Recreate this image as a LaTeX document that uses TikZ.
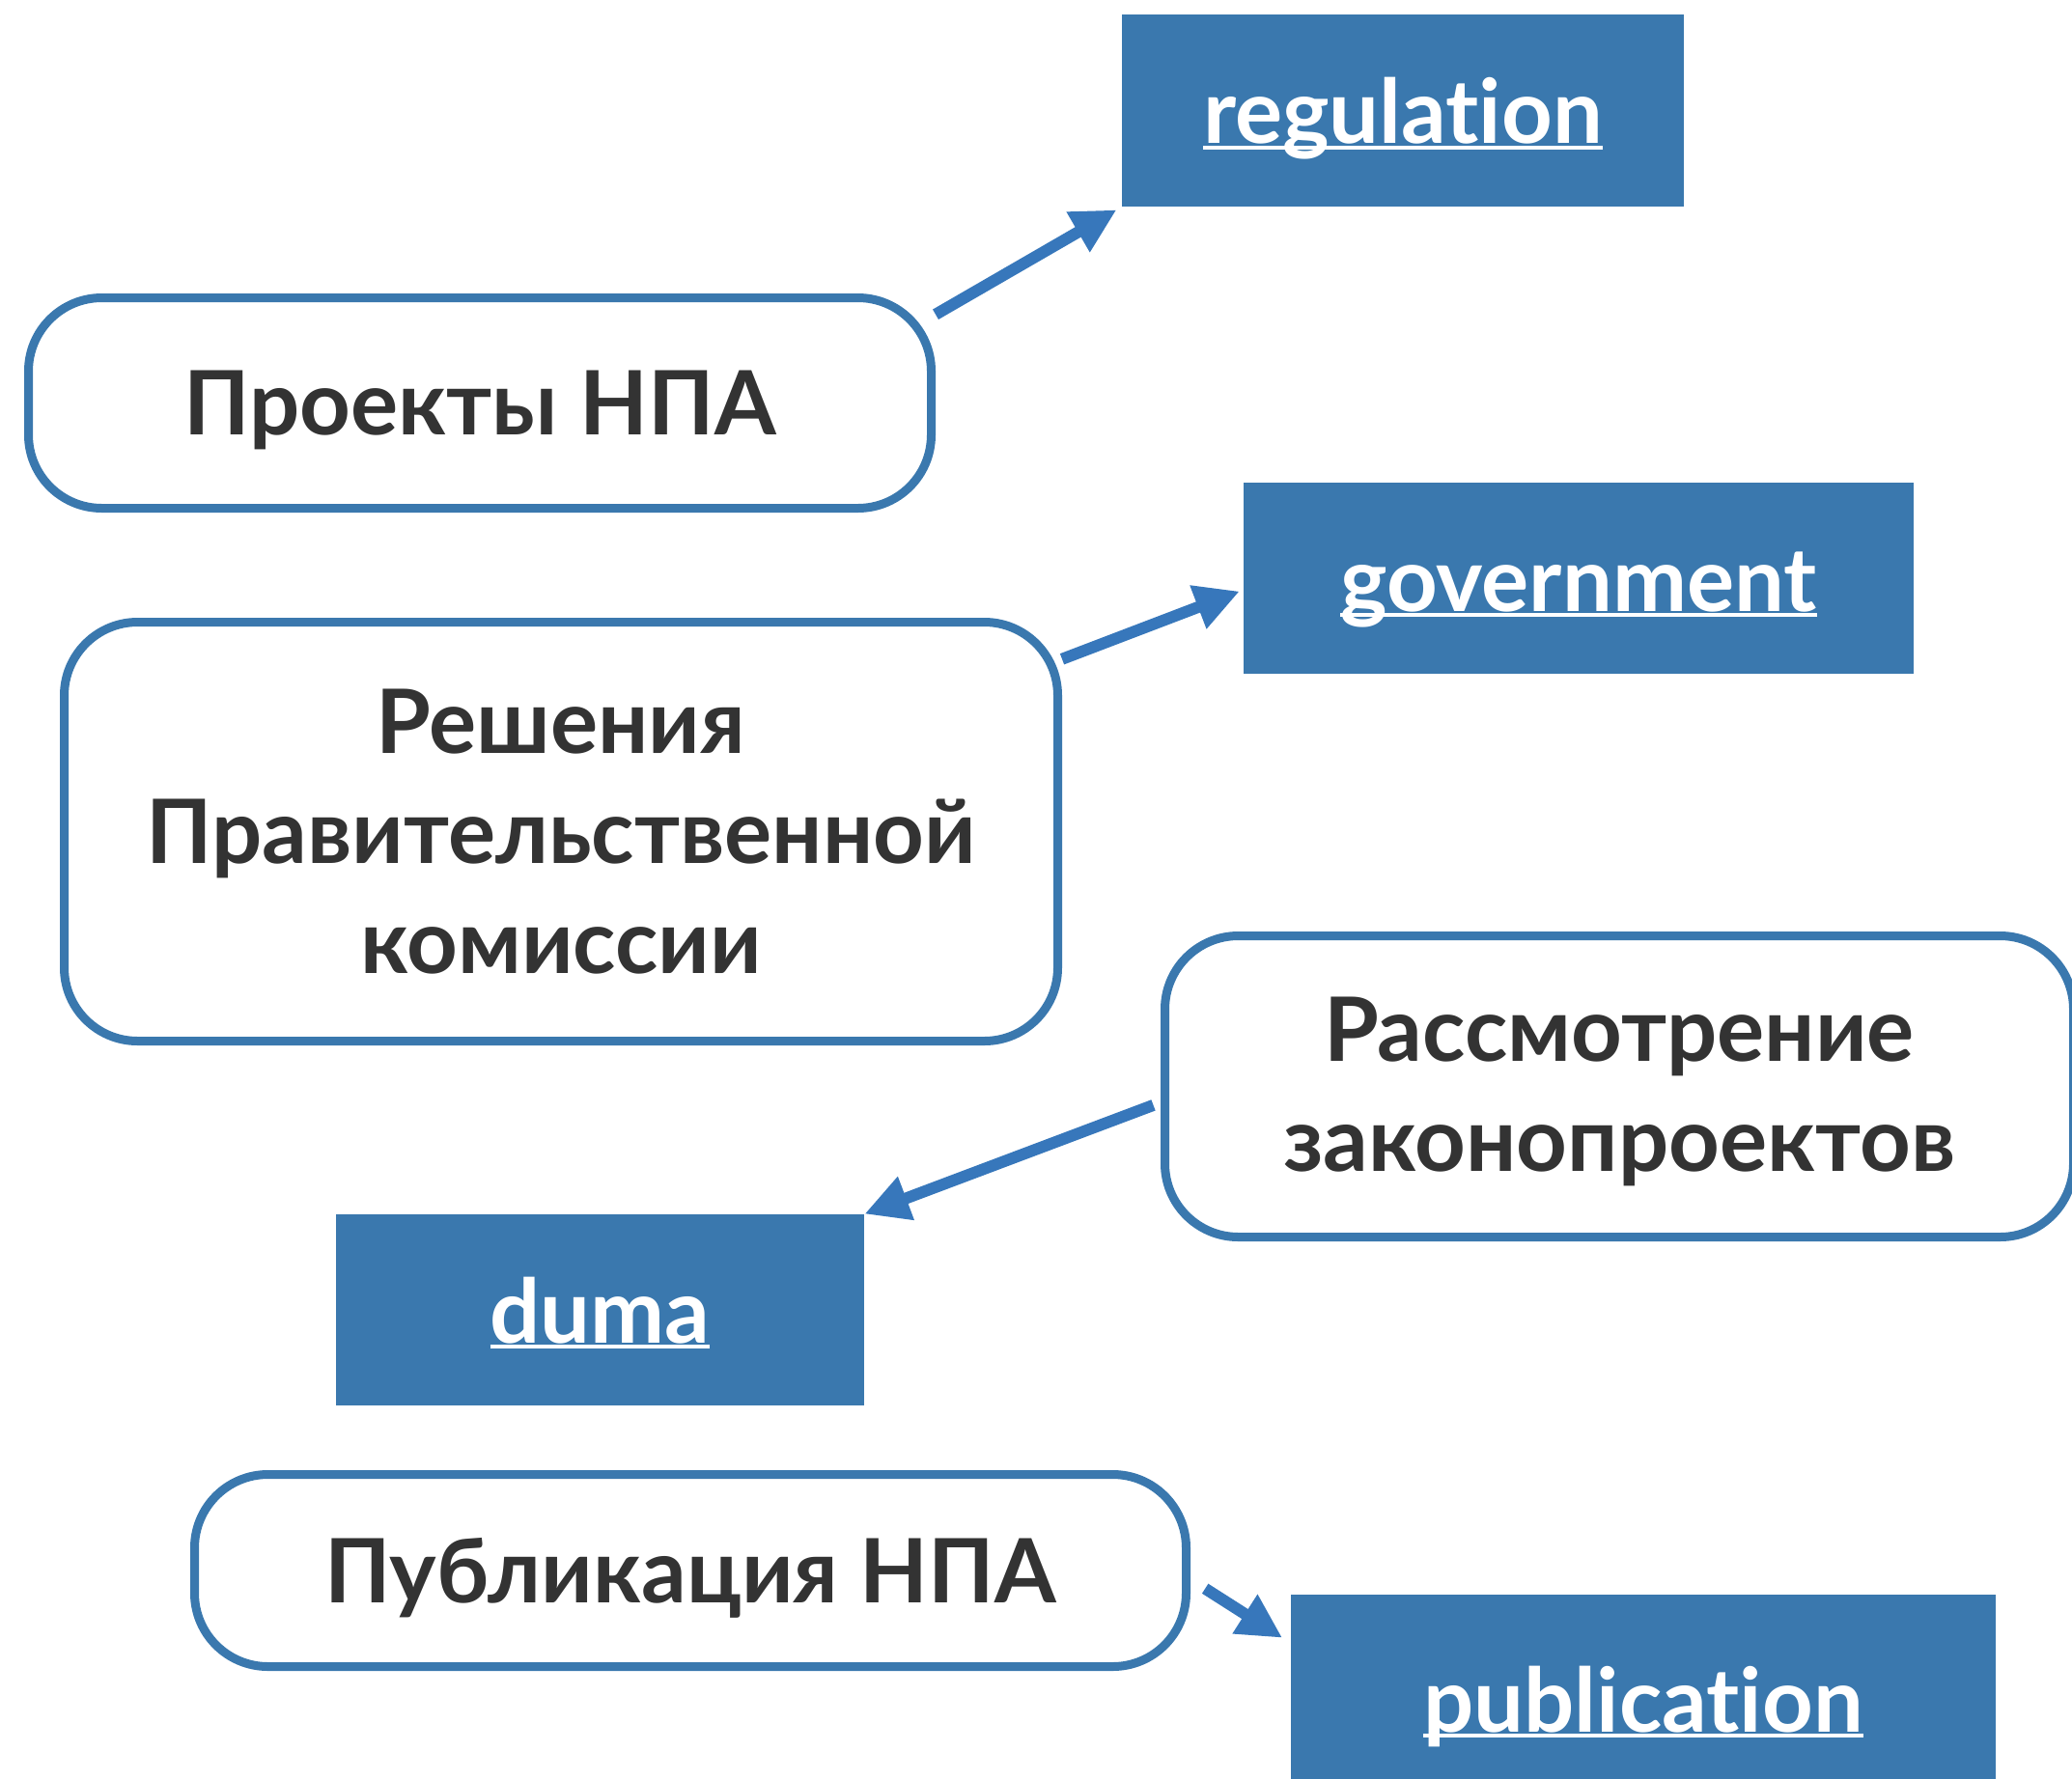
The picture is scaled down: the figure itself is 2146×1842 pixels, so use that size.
\documentclass[tikz,border=0pt]{standalone}
\usepackage{fontspec}
\setmainfont{Lato}[Ligatures=CommonOff]
\usetikzlibrary{arrows.meta}
\definecolor{boxblue}{HTML}{3A78AE}
\definecolor{arrblue}{HTML}{3777BB}
\definecolor{txt}{HTML}{333333}
\newcommand\linkul[1]{\setbox0\hbox{#1}\rlap{\color{white}\rule[-0.07em]{\wd0}{0.045em}}\box0}
\newcommand\firstline{\rule{0pt}{39pt}}
\tikzset{
  x=0.5pt, y=-0.5pt,
  roundbox/.style={draw=boxblue, line width=4.5pt, rounded corners=38pt, fill=white,
    text=txt, font=\fontsize{46}{57}\selectfont\bfseries, align=center, inner sep=0pt},
  oneline/.style={text height=33pt, text depth=0pt},
  linkbox/.style={fill=boxblue, draw=none, text=white, text height=34pt, text depth=0pt,
    font=\fontsize{46}{57}\selectfont\bfseries, inner sep=0pt},
  arr/.style={draw=arrblue, line width=6pt, -{Triangle[length=23pt,width=22.5pt]}}
}
\begin{document}
\begin{tikzpicture}
\useasboundingbox (0,0) rectangle (2146,1842);
\clip (0,0) rectangle (2146,1842);
% rounded boxes
\node[roundbox, oneline, minimum width=467.5pt, minimum height=109pt] (p) at (497,417.5) {Проекты НПА};
\node[roundbox, minimum width=514.5pt, minimum height=217pt] (s) at (581,861.5) {Решения\\Правительственной\\комиссии};
\node[roundbox, minimum width=470.5pt, minimum height=156pt] (z) at (1677,1125.5) {\firstline Рассмотрение\\законопроектов};
\node[roundbox, oneline, minimum width=513.5pt, minimum height=99.5pt] (u) at (715,1627) {Публикация НПА};
% link boxes
\node[linkbox, minimum width=291pt, minimum height=99.5pt] (r) at (1453,114.5) {\linkul{regulation}};
\node[linkbox, minimum width=347pt, minimum height=99pt] (g) at (1635,599) {\linkul{government}};
\node[linkbox, minimum width=273.5pt, minimum height=99pt] (d) at (621.5,1357) {\linkul{duma}};
\node[linkbox, minimum width=365pt, minimum height=108pt] (b) at (1702,1760) {\linkul{publication}};
% connectors
\draw[arr, shorten >=3pt] (p.11) -- (r.south west);
\draw[arr, shorten >=2pt] (s.19.3) -- (g.182);
\draw[arr, shorten <=4pt] (z.182.5) -- (d.north east);
\draw[arr, shorten <=9pt, shorten >=5pt] (u.-1.2) -- (b.171.7);
\end{tikzpicture}
\end{document}
